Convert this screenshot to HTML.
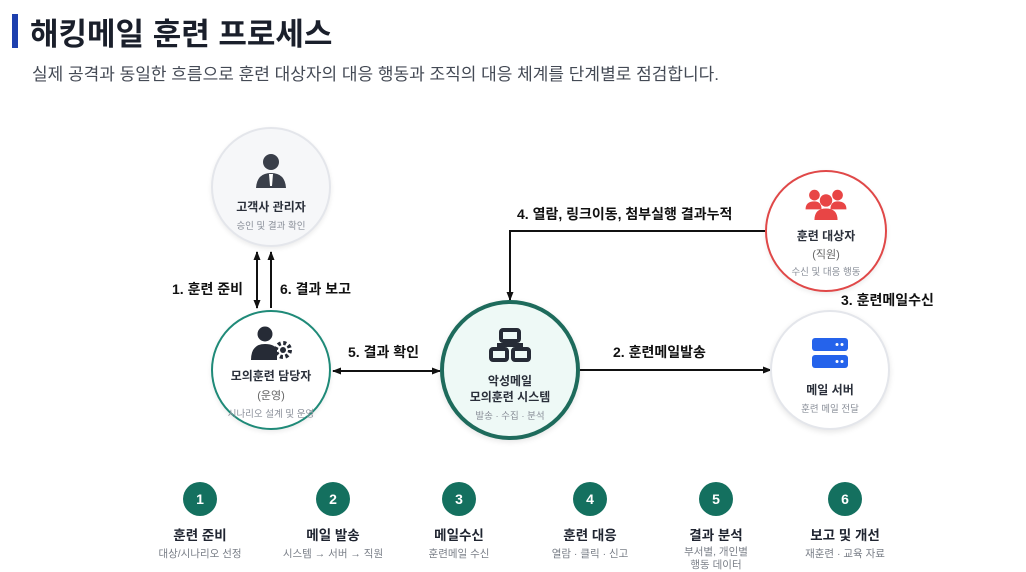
<!DOCTYPE html>
<html><head><meta charset="utf-8"><style>
body{margin:0;width:1026px;height:565px;background:#fff;font-family:"Liberation Sans","Noto Sans CJK KR",sans-serif;position:relative;overflow:hidden;color:#1f2430}
.a{position:absolute}
.c{position:absolute;border-radius:50%;box-sizing:border-box;text-align:center}
.t{font-weight:bold;font-size:12px;color:#2a2f3a}
.s{font-size:9.5px;color:#8a8f99}
.lb{position:absolute;font-weight:bold;font-size:14px;color:#111;white-space:nowrap}
.num{position:absolute;width:34px;height:34px;border-radius:50%;background:#14705f;color:#fff;font-weight:bold;font-size:14px;line-height:34px;text-align:center}
.st{position:absolute;width:140px;text-align:center}
.st b{display:block;font-size:13.5px;color:#1f2430}
.st span{display:block;font-size:10.5px;color:#7a7f88;line-height:13px;margin-top:4px}
</style></head><body>
<div class="a" style="left:12px;top:14px;width:6px;height:34px;background:#1d3fae"></div>
<div class="a" style="left:30px;top:9px;font-size:31px;font-weight:bold;color:#1a1f2b">해킹메일 훈련 프로세스</div>
<div class="a" style="left:32px;top:60px;font-size:17px;color:#444a55">실제 공격과 동일한 흐름으로 훈련 대상자의 대응 행동과 조직의 대응 체계를 단계별로 점검합니다.</div>

<svg class="a" style="left:0;top:0" width="1026" height="565">
<defs><marker id="ar" markerUnits="userSpaceOnUse" markerWidth="9" markerHeight="9" refX="8" refY="4.5" orient="auto-start-reverse"><path d="M0,1 L9,4.5 L0,8z" fill="#111"/></marker></defs>
<g stroke="#111" stroke-width="2" fill="none">
<line x1="257" y1="252" x2="257" y2="308" marker-start="url(#ar)" marker-end="url(#ar)"/>
<line x1="271" y1="308" x2="271" y2="252" marker-end="url(#ar)"/>
<line x1="333" y1="371" x2="440" y2="371" marker-start="url(#ar)" marker-end="url(#ar)"/>
<polyline points="765,231 510,231 510,300" marker-end="url(#ar)"/>
<line x1="580" y1="370" x2="771" y2="370" marker-end="url(#ar)"/>
</g></svg>

<div class="c" style="left:211px;top:127px;width:120px;height:120px;background:#f6f7f9;border:2px solid #e4e6eb;box-shadow:0 2px 5px rgba(0,0,0,.08)">
<svg width="34" height="36" style="margin-top:24px" viewBox="0 0 34 36"><circle cx="17" cy="9" r="8" fill="#3a3f4a"/><path d="M2,35 Q3,20 17,20 Q31,20 32,35z" fill="#3a3f4a"/><path d="M15,21 L19,21 L18,33 L16,33z" fill="#fff"/></svg>
<div class="t" style="margin-top:4px">고객사 관리자</div><div class="s" style="margin-top:3px">승인 및 결과 확인</div></div>

<div class="c" style="left:211px;top:310px;width:120px;height:120px;background:#fff;border:2.5px solid #1f8a78;box-shadow:0 2px 5px rgba(0,0,0,.08)">
<svg width="44" height="34" style="margin-top:14px" viewBox="0 0 44 34"><circle cx="16" cy="8" r="7.5" fill="#262b36"/><path d="M2,34 Q2,18 16,18 Q26,18 28,24 L28,34z" fill="#262b36"/><circle cx="34" cy="24" r="7" fill="none" stroke="#262b36" stroke-width="4" stroke-dasharray="3 2.5"/><circle cx="34" cy="24" r="3" fill="#262b36"/></svg>
<div class="t" style="margin-top:2px">모의훈련 담당자</div><div class="s" style="font-size:11px;margin-top:3px;color:#666">(운영)</div><div class="s" style="margin-top:3px">시나리오 설계 및 운영</div></div>

<div class="c" style="left:440px;top:300px;width:140px;height:140px;background:#eef9f6;border:4px solid #1e6b5c;box-shadow:0 2px 6px rgba(0,0,0,.1)">
<svg width="42" height="34" style="margin-top:24px" viewBox="0 0 42 34"><g fill="none" stroke="#262b36" stroke-width="4"><rect x="12" y="2" width="18" height="11" rx="2"/><rect x="2" y="21" width="16" height="11" rx="2"/><rect x="24" y="21" width="16" height="11" rx="2"/><path d="M21,13 V17 M10,21 V17 H32 V21"/></g></svg>
<div class="t" style="margin-top:6px;line-height:16px">악성메일<br>모의훈련 시스템</div><div class="s" style="margin-top:3px">발송 · 수집 · 분석</div></div>

<div class="c" style="left:765px;top:170px;width:122px;height:122px;background:#fff;border:2.5px solid #e04848;box-shadow:0 2px 5px rgba(0,0,0,.08)">
<svg width="42" height="32" style="margin-top:16px" viewBox="0 0 46 36"><g fill="#e84545"><circle cx="10" cy="8" r="6"/><circle cx="36" cy="8" r="6"/><path d="M0,24 Q0,15 10,15 Q18,15 18,24z M28,24 Q28,15 36,15 Q46,15 46,24z"/><circle cx="23" cy="14" r="7"/><path d="M10,36 Q10,23 23,23 Q36,23 36,36z"/></g></svg>
<div class="t" style="margin-top:2px">훈련 대상자</div><div class="s" style="font-size:11px;margin-top:2px;color:#666">(직원)</div><div class="s" style="margin-top:2px">수신 및 대응 행동</div></div>

<div class="c" style="left:770px;top:310px;width:120px;height:120px;background:#fff;border:2px solid #e4e6eb;box-shadow:0 2px 6px rgba(0,0,0,.1)">
<svg width="36" height="30" style="margin-top:26px" viewBox="0 0 36 30"><rect x="0" y="0" width="36" height="13" rx="3" fill="#2563eb"/><rect x="0" y="17" width="36" height="13" rx="3" fill="#2563eb"/><g fill="#fff"><circle cx="25" cy="6.5" r="1.5"/><circle cx="30" cy="6.5" r="1.5"/><circle cx="25" cy="23.5" r="1.5"/><circle cx="30" cy="23.5" r="1.5"/></g></svg>
<div class="t" style="margin-top:8px">메일 서버</div><div class="s" style="margin-top:3px">훈련 메일 전달</div></div>

<div class="lb" style="left:172px;top:279px">1. 훈련 준비</div>
<div class="lb" style="left:280px;top:279px">6. 결과 보고</div>
<div class="lb" style="left:348px;top:342px">5. 결과 확인</div>
<div class="lb" style="left:517px;top:204px">4. 열람, 링크이동, 첨부실행 결과누적</div>
<div class="lb" style="left:613px;top:342px">2. 훈련메일발송</div>
<div class="lb" style="left:841px;top:290px">3. 훈련메일수신</div>

<div class="num" style="left:183px;top:482px">1</div>
<div class="num" style="left:316px;top:482px">2</div>
<div class="num" style="left:442px;top:482px">3</div>
<div class="num" style="left:573px;top:482px">4</div>
<div class="num" style="left:699px;top:482px">5</div>
<div class="num" style="left:828px;top:482px">6</div>
<div class="st" style="left:130px;top:524px"><b>훈련 준비</b><span>대상/시나리오 선정</span></div>
<div class="st" style="left:263px;top:524px"><b>메일 발송</b><span>시스템 → 서버 → 직원</span></div>
<div class="st" style="left:389px;top:524px"><b>메일수신</b><span>훈련메일 수신</span></div>
<div class="st" style="left:520px;top:524px"><b>훈련 대응</b><span>열람 · 클릭 · 신고</span></div>
<div class="st" style="left:646px;top:524px"><b>결과 분석</b><span style="margin-top:2px">부서별, 개인별<br>행동 데이터</span></div>
<div class="st" style="left:775px;top:524px"><b>보고 및 개선</b><span>재훈련 · 교육 자료</span></div>
</body></html>
